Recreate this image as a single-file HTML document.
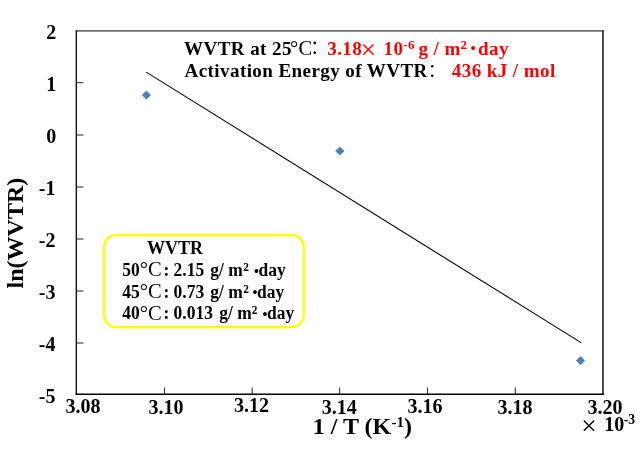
<!DOCTYPE html>
<html><head><meta charset="utf-8"><title>ln(WVTR) vs 1/T</title>
<style>
html,body{margin:0;padding:0;background:#fff;}
body{width:641px;height:449px;overflow:hidden;}
svg{display:block;}
text{font-family:"Liberation Serif","Noto Serif CJK SC",serif;font-weight:bold;fill:#000;}
.r text{fill:#ff0000;}
text.n{font-weight:normal;}
text.jp{font-family:"Liberation Serif","Noto Serif CJK JP",serif;}
text.x{font-family:"Noto Sans CJK SC","Liberation Sans",sans-serif;font-weight:500;}
</style></head>
<body>
<svg width="641" height="449" viewBox="0 0 641 449">
<rect width="641" height="449" fill="#fff"/>
<!-- frame -->
<line x1="76" y1="30.95" x2="603.8" y2="30.95" stroke="#707070" stroke-width="1.75"/>
<line x1="602.95" y1="30.2" x2="602.95" y2="394.8" stroke="#333" stroke-width="1.75"/>
<line x1="76.3" y1="30.2" x2="76.3" y2="394.8" stroke="#000" stroke-width="1.3"/>
<line x1="75.6" y1="394.2" x2="603.8" y2="394.2" stroke="#000" stroke-width="1.4"/>
<!-- ticks -->
<g stroke="#2a2a2a" stroke-width="1.05">
<line x1="76" y1="82.65" x2="83.3" y2="82.65"/>
<line x1="76" y1="135.0" x2="83.3" y2="135.0"/>
<line x1="76" y1="187.0" x2="83.3" y2="187.0"/>
<line x1="76" y1="239.0" x2="83.3" y2="239.0"/>
<line x1="76" y1="291.0" x2="83.3" y2="291.0"/>
<line x1="76" y1="343.0" x2="83.3" y2="343.0"/>
<line x1="164.5" y1="387.4" x2="164.5" y2="394"/>
<line x1="252.2" y1="387.4" x2="252.2" y2="394"/>
<line x1="339.6" y1="387.4" x2="339.6" y2="394"/>
<line x1="427.5" y1="387.4" x2="427.5" y2="394"/>
<line x1="515.3" y1="387.4" x2="515.3" y2="394"/>
</g>
<!-- y labels -->
<g text-anchor="end">
<text x="56.2" y="39.1" font-size="20">2</text>
<text x="56.2" y="91.2" font-size="20">1</text>
<text x="56.2" y="143.4" font-size="20">0</text>
<text x="55.4" y="195.2" font-size="20">-1</text>
<text x="55.4" y="247.3" font-size="20">-2</text>
<text x="55.4" y="299.2" font-size="20">-3</text>
<text x="55.4" y="351.2" font-size="20">-4</text>
<text x="55.4" y="403.2" font-size="20">-5</text>
</g>
<!-- x labels -->
<g text-anchor="middle">
<text x="83.1" y="412.9" font-size="20">3.08</text>
<text x="165.9" y="413.6" font-size="20">3.10</text>
<text x="251.5" y="412.2" font-size="20">3.12</text>
<text x="339.2" y="413.9" font-size="20">3.14</text>
<text x="425.1" y="413.0" font-size="20">3.16</text>
<text x="515" y="413.6" font-size="20">3.18</text>
<text x="605" y="413.6" font-size="20">3.20</text>
</g>
<!-- axis titles -->
<text x="312.7" y="433.9" font-size="24">1 / T (K</text>
<text x="391.4" y="426.7" font-size="15.2">-1</text>
<text x="404" y="433.9" font-size="24">)</text>
<text transform="translate(23.2 288.4) rotate(-90)" font-size="24">ln(WVTR)</text>
<text class="x" x="580.2" y="431.6" font-size="17.4">×</text>
<text x="604.2" y="430.7" font-size="20">10</text>
<text x="623.8" y="424.1" font-size="13.6">-3</text>
<!-- fit line -->
<line x1="146.2" y1="72.1" x2="581" y2="342.6" stroke="#000" stroke-width="1.1"/>
<!-- points -->
<g fill="#4b7fbc" stroke="#426fa8" stroke-width="0.6">
<path d="M146.4 91.0l4.2 4.1l-4.2 4.1l-4.2-4.1z"/>
<path d="M339.8 146.9l4.2 4.1l-4.2 4.1l-4.2-4.1z"/>
<path d="M580.5 356.5l4.2 4.1l-4.2 4.1l-4.2-4.1z"/>
</g>
<!-- annotation top -->
<g letter-spacing="0.39">
<text transform="translate(184.1 55.4) scale(1.02 1)" font-size="18.7">WVTR at 25</text>
<text class="n" x="290.0" y="55.4" font-size="20.5">°C</text>
<text class="n jp" x="304.7" y="54.6" font-size="20">：</text>
<g class="r">
<text transform="translate(327.2 55.25) scale(1.02 1)" font-size="18.7">3.18</text>
<text class="x" x="359.8" y="56.3" font-size="17.2">×</text>
<text transform="translate(383.5 55.25) scale(1.02 1)" font-size="18.7">10</text>
<text transform="translate(403.2 48.5) scale(1.02 1)" font-size="12.8">-6</text>
<text transform="translate(418.5 55.25) scale(1.02 1)" font-size="18.7">g / m</text>
<text transform="translate(460.6 49.3) scale(1.02 1)" font-size="12.6">2</text>
<text x="470.4" y="52.7" font-size="14.8">•</text>
<text transform="translate(478 55.25) scale(1.02 1)" font-size="18.7">day</text>
<text transform="translate(451.8 77.4) scale(1.02 1)" font-size="18.7">436 kJ / mol</text>
</g>
<text transform="translate(184.6 77.4) scale(1.02 1)" font-size="18.7">Activation Energy of WVTR</text>
<text class="n jp" x="422.5" y="78.0" font-size="19.5">：</text>
</g>
<!-- box -->
<rect x="103.9" y="235" width="199.85" height="92.15" rx="12.5" ry="12.5" fill="none" stroke="#ffff00" stroke-width="2.4"/>
<text transform="translate(147.0 254.4) scale(0.99 1)" font-size="18.2">WVTR</text>
<text transform="translate(122.2 276.0) scale(0.96 1)" font-size="18.2">50</text>
<text class="n" x="139.8" y="276.2" font-size="20.5">°C</text>
<text transform="translate(163.4 276.0) scale(0.96 1)" font-size="18.2">: 2.15</text>
<text transform="translate(210.2 276.0) scale(0.96 1)" font-size="18.2">g/ m</text>
<text transform="translate(243.2 271.0) scale(0.96 1)" font-size="11.8">2</text>
<text x="254" y="275.8" font-size="14">•</text>
<text transform="translate(258.6 276.0) scale(0.96 1)" font-size="18.2">day</text>
<text transform="translate(122.2 297.6) scale(0.96 1)" font-size="18.2">45</text>
<text class="n" x="139.8" y="297.8" font-size="20.5">°C</text>
<text transform="translate(163.4 297.6) scale(0.96 1)" font-size="18.2">: 0.73</text>
<text transform="translate(210.2 297.6) scale(0.96 1)" font-size="18.2">g/ m</text>
<text transform="translate(243.2 292.6) scale(0.96 1)" font-size="11.8">2</text>
<text x="252.5" y="297.40000000000003" font-size="14">•</text>
<text transform="translate(257.1 297.6) scale(0.96 1)" font-size="18.2">day</text>
<text transform="translate(122.2 319.3) scale(0.96 1)" font-size="18.2">40</text>
<text class="n" x="139.8" y="319.5" font-size="20.5">°C</text>
<text transform="translate(163.4 319.3) scale(0.96 1)" font-size="18.2">: 0.013</text>
<text transform="translate(219.2 319.3) scale(0.96 1)" font-size="18.2">g/ m</text>
<text transform="translate(251.7 314.3) scale(0.96 1)" font-size="11.8">2</text>
<text x="262.5" y="319.1" font-size="14">•</text>
<text transform="translate(267.1 319.3) scale(0.96 1)" font-size="18.2">day</text>
</svg>
</body></html>
